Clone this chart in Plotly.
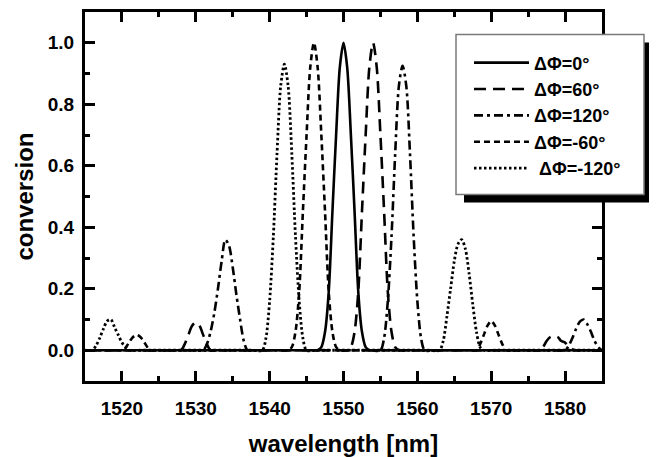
import plotly.graph_objects as go

# ---------------- data ----------------
names = ["ΔΦ=0°", "ΔΦ=60°", "ΔΦ=120°", "ΔΦ=-60°", "\u00a0ΔΦ=-120°"]

wl_0 = [1515, 1545.5, 1546.5, 1547, 1547.5, 1548, 1548.5, 1549, 1549.5, 1550,
        1550.5, 1551, 1551.5, 1552, 1552.5, 1553, 1553.5, 1554.5, 1585]
cv_0 = [0, 0, 0, 0.01, 0.06, 0.19, 0.45, 0.70, 0.92, 1.0,
        0.92, 0.70, 0.45, 0.19, 0.06, 0.01, 0, 0, 0]

wl_60 = [1515, 1527, 1528, 1528.5, 1529, 1529.5, 1530, 1530.5, 1531, 1531.5, 1532, 1533,
         1549.5, 1550.5, 1551, 1551.5, 1552, 1552.5, 1553, 1553.5, 1554, 1554.5, 1555,
         1555.5, 1556, 1556.5, 1557, 1557.5, 1558.5,
         1575.5, 1576.5, 1577, 1577.5, 1578, 1578.5, 1579, 1579.5, 1580, 1580.5, 1581,
         1581.5, 1582.5, 1585]
cv_60 = [0, 0, 0, 0.02, 0.05, 0.08, 0.09, 0.08, 0.05, 0.02, 0, 0,
         0, 0, 0.01, 0.06, 0.19, 0.45, 0.70, 0.92, 1.0, 0.92, 0.70,
         0.45, 0.19, 0.06, 0.01, 0, 0,
         0, 0, 0.01, 0.03, 0.043, 0.047, 0.043, 0.03, 0.025, 0.012, 0.003,
         0, 0, 0]

wl_120 = [1515, 1529.5, 1531, 1531.5, 1532, 1532.5, 1533, 1533.5, 1534, 1534.5, 1535,
          1535.5, 1536, 1536.5, 1537, 1538,
          1553.5, 1555, 1555.5, 1556, 1556.5, 1557, 1557.5, 1558, 1558.5, 1559, 1559.5,
          1560, 1560.5, 1561, 1562.5,
          1578.5, 1580, 1580.5, 1581, 1581.5, 1582, 1582.5, 1583, 1583.5, 1584, 1584.5, 1585]
cv_120 = [0, 0, 0, 0.02, 0.06, 0.12, 0.20, 0.29, 0.36, 0.34, 0.27,
          0.18, 0.10, 0.03, 0, 0,
          0, 0, 0.04, 0.16, 0.37, 0.64, 0.86, 0.925, 0.86, 0.64, 0.37,
          0.16, 0.04, 0, 0,
          0, 0, 0.015, 0.04, 0.07, 0.093, 0.1, 0.085, 0.06, 0.03, 0.01, 0]

wl_m60 = [1515, 1519, 1520, 1520.5, 1521, 1521.5, 1522, 1522.5, 1523, 1523.5, 1524, 1525,
          1541.5, 1542.5, 1543, 1543.5, 1544, 1544.5, 1545, 1545.5, 1546, 1546.5, 1547,
          1547.5, 1548, 1548.5, 1549, 1549.5, 1550.5,
          1567, 1568, 1568.5, 1569, 1569.5, 1570, 1570.5, 1571, 1571.5, 1572, 1573, 1585]
cv_m60 = [0, 0, 0, 0.008, 0.027, 0.043, 0.05, 0.043, 0.027, 0.008, 0, 0,
          0, 0, 0.01, 0.06, 0.19, 0.45, 0.70, 0.92, 1.0, 0.92, 0.70,
          0.45, 0.19, 0.06, 0.01, 0, 0,
          0, 0, 0.02, 0.05, 0.08, 0.095, 0.08, 0.05, 0.02, 0, 0, 0]

wl_m120 = [1515, 1516, 1516.5, 1517, 1517.5, 1518, 1518.5, 1519, 1519.5, 1520, 1520.5,
           1521, 1522.5,
           1537.5, 1539, 1539.5, 1540, 1540.5, 1541, 1541.5, 1542, 1542.5, 1543, 1543.5,
           1544, 1544.5, 1545, 1546.5,
           1561.5, 1563, 1563.5, 1564, 1564.5, 1565, 1565.5, 1566, 1566.5, 1567, 1567.5,
           1568, 1568.5, 1569, 1570.5, 1585]
cv_m120 = [0, 0, 0.015, 0.04, 0.07, 0.095, 0.1, 0.075, 0.05, 0.025, 0.01,
           0, 0,
           0, 0, 0.04, 0.16, 0.37, 0.64, 0.86, 0.93, 0.86, 0.64, 0.37,
           0.16, 0.04, 0, 0,
           0, 0, 0.03, 0.11, 0.20, 0.29, 0.345, 0.36, 0.33, 0.25, 0.15,
           0.06, 0.01, 0, 0, 0]

x_ticks = [1520, 1530, 1540, 1550, 1560, 1570, 1580]
y_ticks = [0.0, 0.2, 0.4, 0.6, 0.8, 1.0]

# ---------------- figure ----------------
series = [
    (wl_0, cv_0, "solid", 2.6),
    (wl_60, cv_60, "12px,7px", 2.6),
    (wl_120, cv_120, "9px,4px,3px,4px", 2.6),
    (wl_m60, cv_m60, "6px,4px", 2.6),
    (wl_m120, cv_m120, "2.5px,2.5px", 2.8),
]

fig = go.Figure()
for (x, y, dash, w), nm in zip(series, names):
    fig.add_trace(go.Scatter(
        x=x, y=y, name=nm, mode="lines",
        line=dict(color="black", width=w, dash=dash, shape="spline", smoothing=0.8),
    ))

FONT = "Liberation Sans, Arial, sans-serif"

axis_common = dict(
    showline=True, linecolor="black", linewidth=3, mirror="allticks",
    ticks="inside", ticklen=10, tickwidth=2.5, tickcolor="black",
    showgrid=False, zeroline=False,
    tickfont=dict(family=FONT, size=19, color="black", weight="bold"),
)

fig.update_xaxes(
    range=[1515, 1585], tickvals=x_ticks, ticktext=[str(v) for v in x_ticks],
    minor=dict(ticks="inside", ticklen=5, tickwidth=2.5, tickcolor="black", dtick=5, tick0=1515),
    ticklabelstandoff=8,
    title=dict(text="wavelength [nm]", font=dict(family=FONT, size=24, color="black", weight="bold"),
               standoff=20),
    **axis_common,
)
fig.update_yaxes(
    range=[-0.1, 1.1], tickvals=y_ticks, ticktext=[f"{v:.1f}" for v in y_ticks],
    minor=dict(ticks="inside", ticklen=5, tickwidth=2.5, tickcolor="black", dtick=0.1, tick0=0),
    ticklabelstandoff=4,
    title=dict(text="conversion", font=dict(family=FONT, size=24, color="black", weight="bold"),
               standoff=8),
    **axis_common,
)

# page body has an 8px margin, so the figure is drawn 8px smaller and offset
OFF = 8
W, H = 657 - OFF, 457 - OFF
L, T = 85 - OFF, 9 - OFF
pw, ph = 517, 376
R, B = W - L - pw, H - T - ph


def px(xs):
    return (xs - OFF - L) / pw


def py(ys):
    return (T + ph - (ys - OFF)) / ph


shapes = [
    # legend shadow
    dict(type="rect", xref="paper", yref="paper", x0=px(464), x1=px(651), y0=py(203), y1=py(40),
         fillcolor="black", line=dict(width=0), layer="above"),
    # legend box
    dict(type="rect", xref="paper", yref="paper", x0=px(456), x1=px(644), y0=py(195), y1=py(32),
         fillcolor="white", line=dict(color="#7a7a7a", width=1.5), layer="above"),
]

fig.update_layout(
    width=W, height=H,
    margin=dict(l=L, r=R, t=T, b=B),
    paper_bgcolor="white", plot_bgcolor="white",
    shapes=shapes,
    showlegend=True,
    legend=dict(
        x=px(469), y=py(42), xanchor="left", yanchor="top",
        bgcolor="rgba(0,0,0,0)", borderwidth=0,
        font=dict(family=FONT, size=18, color="black", weight="bold"),
        itemwidth=55, tracegroupgap=0,
    ),
)

fig.write_html("out.html")
